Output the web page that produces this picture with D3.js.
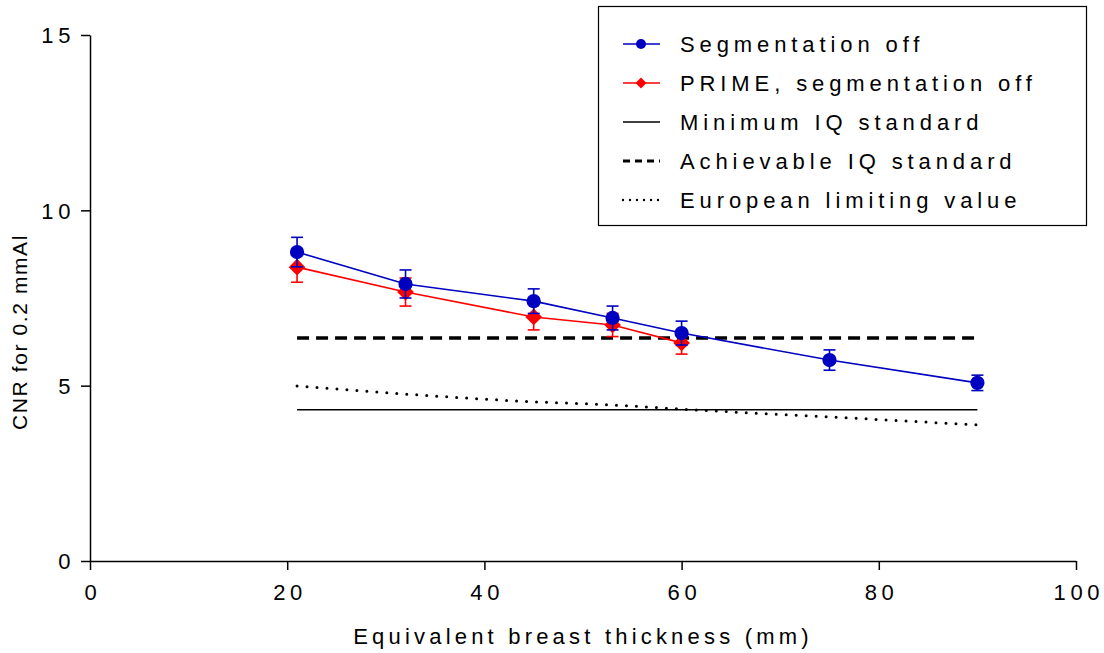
<!DOCTYPE html>
<html>
<head>
<meta charset="utf-8">
<title>CNR vs breast thickness</title>
<style>
  body { margin: 0; background: #fff; }
  svg { font-family: "Liberation Sans", Arial, sans-serif; }
  .axis path, .axis line { stroke: #000; stroke-width: 1.5px; }
  .axis text { font-size: 22px; letter-spacing: 4.6px; fill: #000; }
  .legend text { font-size: 22px; letter-spacing: 4.9px; }
</style>
</head>
<body>
<div id="chart"></div>
<script src="https://d3js.org/d3.v7.min.js"></script>
<script>
// thickness (mm)
var thickness = [21, 32, 45, 53, 60, 75, 90];
// Segmentation off
var segOff = [8.81, 7.90, 7.41, 6.93, 6.50, 5.73, 5.08];
var segOffErr = [0.42, 0.40, 0.35, 0.34, 0.34, 0.29, 0.22];
// PRIME, segmentation off
var primeX = [21, 32, 45, 53, 60];
var prime = [8.38, 7.67, 6.96, 6.73, 6.22];
var primeErr = [0.43, 0.40, 0.37, 0.33, 0.32];
// reference standards
var minimumIQ = [4.31, 4.31];
var achievableIQ = [6.36, 6.36];
var standardX = [21, 90];
var europeanX = [21, 32, 45, 53, 60, 75, 90];
var european = [4.99, 4.76, 4.54, 4.45, 4.33, 4.11, 3.88];
var xTicks = [0, 20, 40, 60, 80, 100];
var yTicks = [0, 5, 10, 15];

var width = 1104, height = 653;
var margin = {top: 35, right: 28, bottom: 92, left: 90};

var svg = d3.select("#chart").append("svg")
  .attr("width", width).attr("height", height);

var x = d3.scaleLinear().domain([0, 100]).range([margin.left, width - margin.right]);
var y = d3.scaleLinear().domain([0, 15]).range([height - margin.bottom, margin.top]);

// axes
svg.append("g").attr("class", "axis")
  .attr("transform", "translate(0," + y(0) + ")")
  .call(d3.axisBottom(x).tickValues(xTicks).tickSize(9).tickSizeOuter(0).tickPadding(14))
  .call(g => g.selectAll("text").attr("font-family", null).attr("font-size", null).attr("dx", "2.3"));
svg.append("g").attr("class", "axis")
  .attr("transform", "translate(" + x(0) + ",0)")
  .call(d3.axisLeft(y).tickValues(yTicks).tickSize(9).tickSizeOuter(0).tickPadding(6))
  .call(g => g.selectAll("text").attr("font-family", null).attr("font-size", null).attr("dy", "0.35em"));

svg.append("text")
  .attr("x", (x(0) + x(100)) / 2).attr("y", 644)
  .attr("text-anchor", "middle")
  .style("font-size", "22px").style("letter-spacing", "4.2px")
  .text("Equivalent breast thickness (mm)");

svg.append("text")
  .attr("transform", "translate(27," + 332 + ") rotate(-90)")
  .attr("text-anchor", "middle")
  .style("font-size", "21px").style("letter-spacing", "1.6px")
  .text("CNR for 0.2 mmAl");

// reference lines
var line = d3.line().x(d => x(d[0])).y(d => y(d[1]));
svg.append("path").datum(d3.zip(standardX, minimumIQ))
  .attr("d", line).attr("fill", "none").attr("stroke", "#000").attr("stroke-width", 1.5);
svg.append("path").datum(d3.zip(standardX, achievableIQ))
  .attr("d", line).attr("fill", "none").attr("stroke", "#000").attr("stroke-width", 3.5)
  .attr("stroke-dasharray", "12,7");
svg.append("path").datum(d3.zip(europeanX, european))
  .attr("d", d3.line().x(d => x(d[0])).y(d => y(d[1])).curve(d3.curveMonotoneX))
  .attr("fill", "none").attr("stroke", "#000").attr("stroke-width", 3)
  .attr("stroke-linecap", "round").attr("stroke-dasharray", "0,10");

function drawSeries(xs, ys, errs, color, shape) {
  var g = svg.append("g");
  var pts = d3.zip(xs, ys, errs);
  g.append("path").datum(pts).attr("d", line)
    .attr("fill", "none").attr("stroke", color).attr("stroke-width", 1.6);
  var eb = g.selectAll(".eb").data(pts).enter().append("g");
  eb.append("line")
    .attr("x1", d => x(d[0])).attr("x2", d => x(d[0]))
    .attr("y1", d => y(d[1] - d[2])).attr("y2", d => y(d[1] + d[2]))
    .attr("stroke", color).attr("stroke-width", 1.6);
  [1, -1].forEach(function (s) {
    eb.append("line")
      .attr("x1", d => x(d[0]) - 6).attr("x2", d => x(d[0]) + 6)
      .attr("y1", d => y(d[1] + s * d[2])).attr("y2", d => y(d[1] + s * d[2]))
      .attr("stroke", color).attr("stroke-width", 1.6);
  });
  g.selectAll(".pt").data(pts).enter().append("path")
    .attr("d", d3.symbol().type(shape).size(shape === d3.symbolCircle ? 160 : 140))
    .attr("fill", color)
    .attr("transform", function (d) {
      var t = "translate(" + x(d[0]) + "," + y(d[1]) + ")";
      return shape === d3.symbolSquare ? t + " rotate(45)" : t;
    });
}

drawSeries(primeX, prime, primeErr, "#ff0000", d3.symbolSquare);
drawSeries(thickness, segOff, segOffErr, "#0000c0", d3.symbolCircle);

// legend
var legend = svg.append("g").attr("class", "legend");
legend.append("rect").attr("x", 598.5).attr("y", 6.5).attr("width", 488).attr("height", 219)
  .attr("fill", "#fff").attr("stroke", "#000").attr("stroke-width", 1.2);
var items = [
  {label: "Segmentation off", color: "#0000c0", marker: "circle"},
  {label: "PRIME, segmentation off", color: "#ff0000", marker: "diamond"},
  {label: "Minimum IQ standard", color: "#000", dash: null},
  {label: "Achievable IQ standard", color: "#000", dash: "7,5", w: 3},
  {label: "European limiting value", color: "#000", dash: "0,7", w: 2.4}
];
items.forEach(function (it, i) {
  var cy = 44 + i * 39;
  var l = legend.append("line").attr("x1", 623).attr("x2", 660).attr("y1", cy).attr("y2", cy)
    .attr("stroke", it.color).attr("stroke-width", it.w || 1.3);
  if (it.dash) l.attr("stroke-dasharray", it.dash).attr("stroke-linecap", it.dash === "0,7" ? "round" : "butt");
  if (it.marker === "circle")
    legend.append("circle").attr("cx", 641).attr("cy", cy).attr("r", 5).attr("fill", it.color);
  if (it.marker === "diamond")
    legend.append("path").attr("d", d3.symbol().type(d3.symbolSquare).size(60))
      .attr("transform", "translate(641," + cy + ") rotate(45)").attr("fill", it.color);
  legend.append("text").attr("x", 680).attr("y", cy).attr("dy", "0.36em").text(it.label);
});
</script>
</body>
</html>
